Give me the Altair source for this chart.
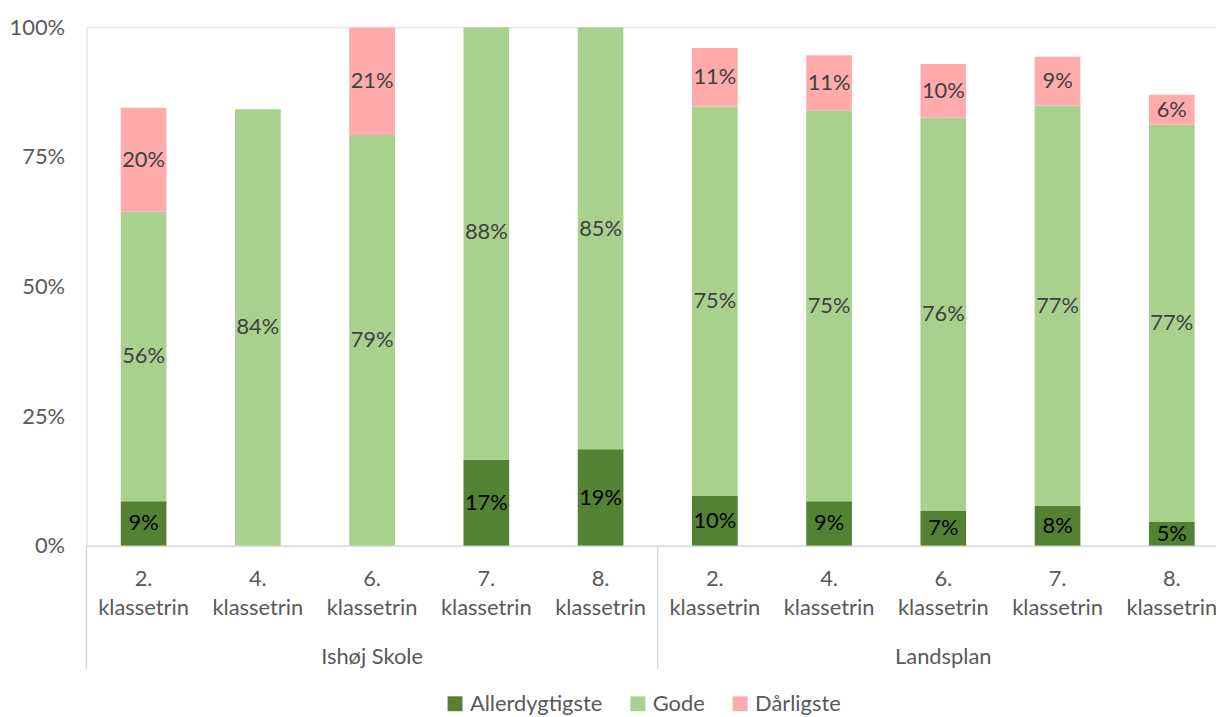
import altair as alt
import pandas as pd

# ---- data ----
groups = ["Ishøj Skole"] * 5 + ["Landsplan"] * 5
grades = ["2. klassetrin", "4. klassetrin", "6. klassetrin", "7. klassetrin", "8. klassetrin"] * 2
series = ["Allerdygtigste", "Gode", "Dårligste"]
allerdygtigste = [0.086, 0.0, 0.0, 0.166, 0.186, 0.096, 0.086, 0.067, 0.077, 0.046]
gode = [0.558, 0.842, 0.792, 0.880, 0.850, 0.751, 0.753, 0.759, 0.772, 0.766]
daarligste = [0.201, 0.0, 0.208, 0.0, 0.0, 0.113, 0.107, 0.103, 0.094, 0.058]
colors = ["#548235", "#A9D18E", "#FFABAB"]
y_ticks = [0, 0.25, 0.5, 0.75, 1.0]

rows = []
for i in range(len(groups)):
    key = groups[i] + "|" + grades[i]
    base = 0.0
    for s, vals in zip(series, [allerdygtigste, gode, daarligste]):
        v = vals[i]
        if v > 0:
            rows.append({"key": key, "group": groups[i], "series": s, "value": v,
                         "y0": base, "y1": base + v, "mid": base + v / 2})
        base += v
df = pd.DataFrame(rows)
keys = [g + "|" + c for g, c in zip(groups, grades)]

group_first = pd.DataFrame({"key": [keys[0], keys[5]]})
group_mid = pd.DataFrame({"key": [keys[2], keys[7]], "label": ["Ishøj Skole", "Landsplan"]})

W, H = 1137, 522
STEP = 115
FONT = "Lato"
FS = 22
SEP = "#d9d9d9"

xscale = alt.Scale(domain=keys, range=[0, STEP * 10], paddingInner=0.6, paddingOuter=0.3)
yscale = alt.Scale(domain=[0, 1], nice=False)

xaxis = alt.Axis(title=None, labelAngle=0, ticks=False, domainColor=SEP, domainWidth=1.5,
                 labelExpr="split(split(datum.label, '|')[1], ' ')",
                 labelFontSize=FS, labelColor="#595959", labelFont=FONT,
                 labelBaseline="top", labelPadding=23, labelLineHeight=29)
yaxis = alt.Axis(title=None, values=y_ticks, format=".0%", grid=False, domain=False, ticks=False,
                 labelFontSize=FS, labelColor="#595959", labelFont=FONT, labelPadding=22)

bars = alt.Chart(df).mark_bar(clip=True).encode(
    x=alt.X("key:N", scale=xscale, axis=xaxis, sort=keys),
    y=alt.Y("y0:Q", scale=yscale, axis=yaxis),
    y2="y1:Q",
    color=alt.Color("series:N", scale=alt.Scale(domain=series, range=colors),
                    legend=alt.Legend(title=None, orient="none", direction="horizontal",
                                      legendX=360, legendY=670, symbolType="square",
                                      symbolSize=225, symbolStrokeWidth=0,
                                      labelFontSize=FS, labelColor="#595959", labelFont=FONT,
                                      labelOffset=4, columnPadding=24)),
)

labels = alt.Chart(df).mark_text(fontSize=FS, font=FONT).encode(
    x=alt.X("key:N", scale=xscale, sort=keys),
    y=alt.Y("mid:Q", scale=yscale),
    text=alt.Text("value:Q", format=".0%"),
    color=alt.condition(alt.datum.series == "Allerdygtigste", alt.value("#000000"), alt.value("#404040")),
)

seps = alt.Chart(group_first).mark_rule(color=SEP, strokeWidth=1.5, xOffset=-0.3 * STEP).encode(
    x=alt.X("key:N", scale=xscale, sort=keys, bandPosition=0),
    y=alt.value(H),
    y2=alt.value(H + 124),
)

glabels = alt.Chart(group_mid).mark_text(fontSize=FS, font=FONT, color="#595959").encode(
    x=alt.X("key:N", scale=xscale, sort=keys),
    y=alt.value(H + 112),
    text="label:N",
)

chart = alt.layer(bars, labels, seps, glabels).properties(
    width=W, height=H,
    autosize=alt.AutoSizeParams(type="none"),
    padding={"left": 79, "top": 17, "right": 0, "bottom": 180},
).configure_view(stroke=None).configure(font=FONT)

chart.save("out.html", embed_options={"renderer": "svg", "actions": False})
